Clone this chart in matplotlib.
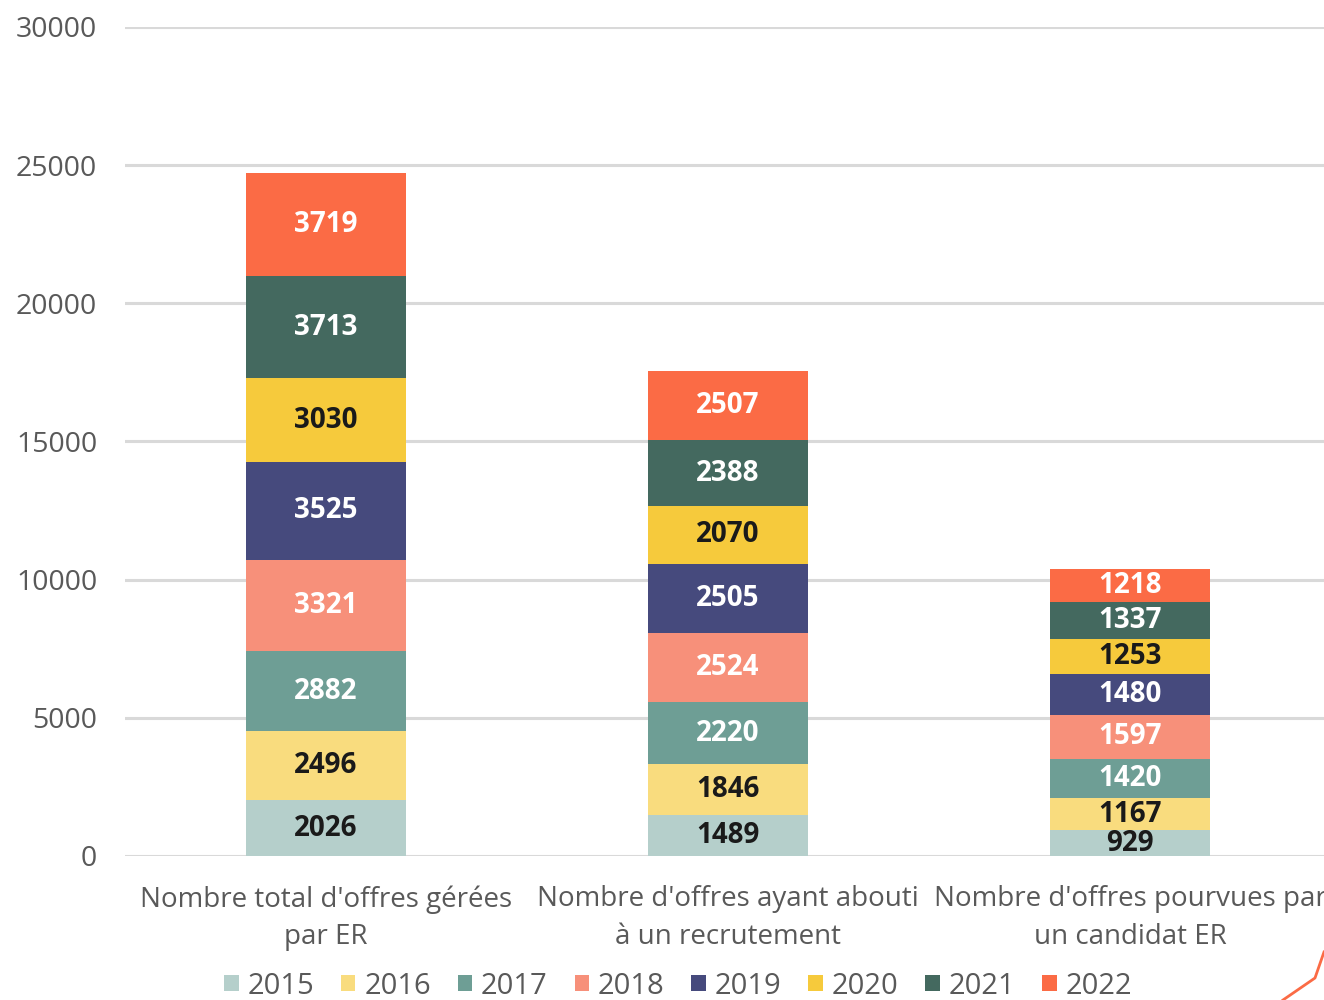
import matplotlib
matplotlib.use("Agg")
import matplotlib.pyplot as plt
from matplotlib.lines import Line2D
from matplotlib.patches import Patch
import numpy as np

plt.rcParams['font.family'] = ['Open Sans', 'DejaVu Sans']

categories = ["Nombre total d'offres gérées\npar ER",
              "Nombre d'offres ayant abouti\nà un recrutement",
              "Nombre d'offres pourvues par\nun candidat ER"]
years = ['2015', '2016', '2017', '2018', '2019', '2020', '2021', '2022']
values = {
    '2015': [2026, 1489, 929],
    '2016': [2496, 1846, 1167],
    '2017': [2882, 2220, 1420],
    '2018': [3321, 2524, 1597],
    '2019': [3525, 2505, 1480],
    '2020': [3030, 2070, 1253],
    '2021': [3713, 2388, 1337],
    '2022': [3719, 2507, 1218],
}
colors = ['#B5CFCB', '#F9DC7E', '#6E9E95', '#F7907A', '#464A7D', '#F6CA3C', '#44695F', '#FB6B45']
label_colors = ['#1a1a1a', '#1a1a1a', 'white', 'white', 'white', '#1a1a1a', 'white', 'white']

fig = plt.figure(figsize=(13.24, 10), dpi=100)
ax = fig.add_axes([125 / 1324, 0.144, 1206 / 1324, 0.829])

x = np.arange(len(categories))
bottom = np.zeros(len(categories))
for yr, col, lc in zip(years, colors, label_colors):
    v = np.array(values[yr])
    ax.bar(x, v, 0.4, bottom=bottom, color=col, zorder=3, label=yr)
    for xi, b, h in zip(x, bottom, v):
        ax.text(xi, b + h / 2, str(h), ha='center', va='center', color=lc,
                fontsize=20, fontweight='bold', zorder=4)
    bottom += v

ax.set_xlim(-0.5, 2.5)
ax.set_ylim(0, 30000)
ax.set_yticks(range(0, 30001, 5000))
ax.yaxis.grid(True, color='#D9D9D9', linewidth=2.2, zorder=0)
ax.set_axisbelow(True)
for s in ax.spines.values():
    s.set_visible(False)
ax.tick_params(axis='y', length=0, pad=20, labelsize=20.5, labelcolor='#595959')
ax.tick_params(axis='x', length=0, pad=21, labelsize=20, labelcolor='#595959')
ax.set_xticks(x)
ax.set_xticklabels(categories, linespacing=1.45)
for t in ax.get_yticklabels() + ax.get_xticklabels():
    t.set_clip_on(False)

handles = [Patch(facecolor=c, edgecolor='none') for c in colors]
fig.legend(handles, years, loc='center', bbox_to_anchor=(678 / 1324, 0.014), ncol=8,
           frameon=False, fontsize=21, labelcolor='#595959', handlelength=0.5,
           handleheight=0.5, handletextpad=0.3, columnspacing=0.92, borderpad=0)

fig.add_artist(Line2D([1283 / 1324, 1315 / 1324, 1.0], [0.0, 0.022, 0.048],
                      transform=fig.transFigure, color='#FB6B45', linewidth=2))

fig.savefig('out.png', dpi=100)
